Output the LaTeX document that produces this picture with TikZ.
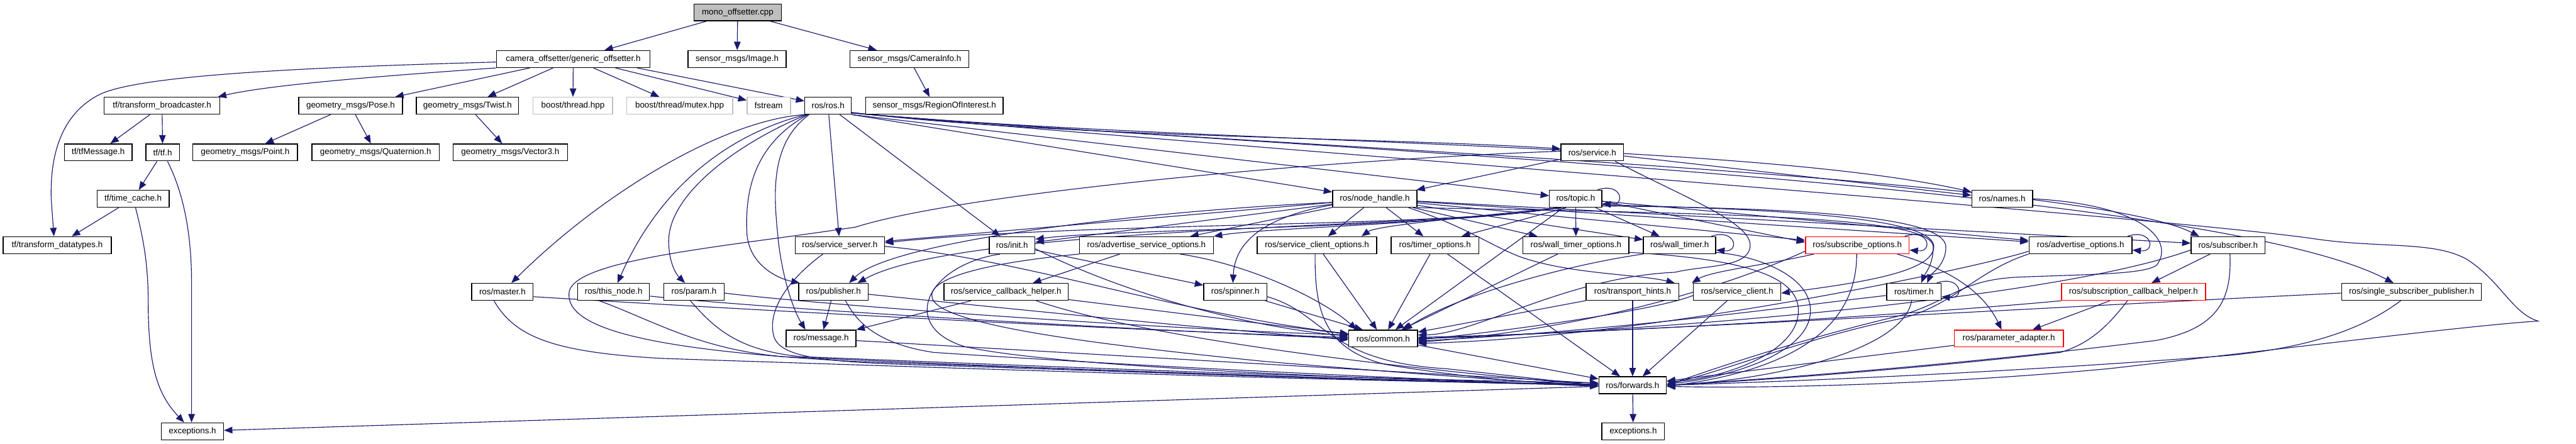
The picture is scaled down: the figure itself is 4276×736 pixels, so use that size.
\documentclass[tikz,border=0pt]{standalone}
\usepackage{fontspec}
\setmainfont{Liberation Sans}
\usetikzlibrary{arrows.meta}
\pgfdeclarelayer{edges}
\pgfsetlayers{edges,main}
\definecolor{edgecol}{RGB}{25,25,112}
\definecolor{graycol}{RGB}{191,191,191}
\definecolor{redcol}{RGB}{255,0,0}
\begin{document}
\begin{tikzpicture}[x=0.5pt,y=-0.5pt,
  box/.style={draw=black, line width=0.75pt, fill=white, minimum height=14pt, inner sep=0pt, font=\fontsize{7pt}{8pt}\selectfont, text=black},
  gbox/.style={box, draw=graycol},
  rbox/.style={box, draw=redcol},
  conn/.style={draw=edgecol, line width=0.6pt, -{Triangle[length=7pt,width=5.5pt]}}]
\path[use as bounding box] (0,0) rectangle (4276,736);
% ---------------- nodes ----------------
\node[box, minimum width=72.5pt, fill=graycol] (mono) at (1224.5,20.5) {mono\_offsetter.cpp};
\node[box, minimum width=127.5pt] (gen) at (951.5,98) {camera\_offsetter/generic\_offsetter.h};
\node[box, minimum width=81.5pt] (img) at (1223.5,98) {sensor\_msgs/Image.h};
\node[box, minimum width=98.5pt] (caminfo) at (1509.5,98) {sensor\_msgs/CameraInfo.h};
\node[box, minimum width=96pt] (tfb) at (269,175.5) {tf/transform\_broadcaster.h};
\node[box, minimum width=86pt] (pose) at (582,175.5) {geometry\_msgs/Pose.h};
\node[box, minimum width=85pt] (twist) at (776,175.5) {geometry\_msgs/Twist.h};
\node[gbox, minimum width=66pt] (bth) at (951,175.5) {boost/thread.hpp};
\node[gbox, minimum width=88pt] (bmutex) at (1128,175.5) {boost/thread/mutex.hpp};
\node[gbox, minimum width=36pt] (fstream) at (1276,175.5) {fstream};
\node[box, minimum width=38.5pt] (ros) at (1374.5,175.5) {ros/ros.h};
\node[box, minimum width=114pt] (roi) at (1551,175.5) {sensor\_msgs/RegionOfInterest.h};
\node[box, minimum width=56pt] (tfmsg) at (163,253) {tf/tfMessage.h};
\node[box, minimum width=28pt] (tftf) at (270,253) {tf/tf.h};
\node[box, minimum width=87pt] (point) at (407,253) {geometry\_msgs/Point.h};
\node[box, minimum width=105.5pt] (quat) at (623.5,253) {geometry\_msgs/Quaternion.h};
\node[box, minimum width=95pt] (vec3) at (847,253) {geometry\_msgs/Vector3.h};
\node[box, minimum width=52pt] (service) at (2643,253) {ros/service.h};
\node[box, minimum width=60pt] (timecache) at (221,330) {tf/time\_cache.h};
\node[box, minimum width=70pt] (nh) at (2282,330) {ros/node\_handle.h};
\node[box, minimum width=43.5pt] (topic) at (2615.5,330) {ros/topic.h};
\node[box, minimum width=50.5pt] (names) at (3323.5,330) {ros/names.h};
\node[box, minimum width=90pt] (tfdt) at (95,407) {tf/transform\_datatypes.h};
\node[box, minimum width=74pt] (srvserver) at (1394,407) {ros/service\_server.h};
\node[box, minimum width=38pt] (init) at (1680,407) {ros/init.h};
\node[box, minimum width=111pt] (aso) at (1903,407) {ros/advertise\_service\_options.h};
\node[box, minimum width=99pt] (sco) at (2186,407) {ros/service\_client\_options.h};
\node[box, minimum width=73pt] (timeropt) at (2382,407) {ros/timer\_options.h};
\node[box, minimum width=88pt] (wto) at (2616,407) {ros/wall\_timer\_options.h};
\node[box, minimum width=60pt] (walltimer) at (2788,407) {ros/wall\_timer.h};
\node[rbox, minimum width=86pt] (subopt) at (3083,407) {ros/subscribe\_options.h};
\node[box, minimum width=85.5pt] (advopt) at (3453.5,407) {ros/advertise\_options.h};
\node[box, minimum width=61.5pt] (subscriber) at (3698.5,407) {ros/subscriber.h};
\node[box, minimum width=51pt] (master) at (834,484.5) {ros/master.h};
\node[box, minimum width=59.5pt] (thisnode) at (1018.5,484.5) {ros/this\_node.h};
\node[box, minimum width=50pt] (param) at (1152,484.5) {ros/param.h};
\node[box, minimum width=57.5pt] (publisher) at (1383.5,484.5) {ros/publisher.h};
\node[box, minimum width=103pt] (sch) at (1670,484.5) {ros/service\_callback\_helper.h};
\node[box, minimum width=52.5pt] (spinner) at (2050.5,484.5) {ros/spinner.h};
\node[box, minimum width=77pt] (th) at (2710,484.5) {ros/transport\_hints.h};
\node[box, minimum width=72.5pt] (sclient) at (2883.5,484.5) {ros/service\_client.h};
\node[box, minimum width=45pt] (timer) at (3177,484.5) {ros/timer.h};
\node[rbox, minimum width=119.5pt] (subcbh) at (3541.5,484.5) {ros/subscription\_callback\_helper.h};
\node[box, minimum width=116pt] (ssp) at (4003,484.5) {ros/single\_subscriber\_publisher.h};
\node[box, minimum width=58pt] (message) at (1363,562) {ros/message.h};
\node[box, minimum width=57pt] (common) at (2296,562) {ros/common.h};
\node[rbox, minimum width=90.5pt] (padapter) at (3334.5,562) {ros/parameter\_adapter.h};
\node[box, minimum width=56pt] (forwards) at (2710,639.5) {ros/forwards.h};
\node[box, minimum width=51.5pt] (exc1) at (319.5,716) {exceptions.h};
\node[box, minimum width=52pt] (exc2) at (2711,716) {exceptions.h};
% ---------------- edges ----------------
\begin{pgfonlayer}{edges}
\fill[white] (0,0) rectangle (4276,736);
% top part
\draw[conn] (mono) -- (gen);
\draw[conn] (mono) -- (img);
\draw[conn] (mono) -- (caminfo);
\draw[conn] (caminfo) -- (roi);
\draw[conn] ([yshift=-2.5pt]gen.west) .. controls (500,112) and (230,125) .. (165,157) .. controls (100,190) and (83,260) .. (85,330) -- ([xshift=-2.75pt]tfdt.north);
\draw[conn] (gen.south west) .. controls (650,125) and (450,140) .. ([xshift=-2pt]tfb.north east);
\draw[conn] ([xshift=-36pt]gen.south) -- ([xshift=37pt]pose.north);
\draw[conn] (gen) -- (twist);
\draw[conn] (gen) -- (bth);
\draw[conn] (gen) -- (bmutex);
\draw[conn] ([xshift=35pt]gen.south) -- (fstream);
\draw[conn] ([xshift=53pt]gen.south) -- (ros);
\draw[conn] (tfb) -- (tfmsg);
\draw[conn] (tfb) -- (tftf);
\draw[conn] (pose) -- (point);
\draw[conn] (pose) -- (quat);
\draw[conn] (twist) -- (vec3);
\draw[conn] (tftf) -- (timecache);
\draw[conn] ([xshift=4pt]tftf.south) .. controls (302,315) and (318,380) .. (318,470) -- ([xshift=-0.75pt]exc1.north);
\draw[conn] (timecache) -- (tfdt);
\draw[conn] ([xshift=2pt]timecache.south) .. controls (235,385) and (246,430) .. (246,500) .. controls (246,610) and (262,655) .. (exc1);
\draw[conn] (forwards) -- (exc1);
\draw[conn] (forwards) -- (exc2);
\draw[conn] (common) -- (forwards);
% ros/ros.h
\draw[conn] (ros.south west) .. controls (1200,200) and (1000,320) .. (master);
\draw[conn] ([xshift=1pt]ros.south west) .. controls (1220,220) and (1100,300) .. (thisnode);
\draw[conn] ([xshift=2pt]ros.south west) .. controls (1230,235) and (1110,320) .. (1110,400) .. controls (1110,435) and (1122,455) .. (param);
\draw[conn] ([xshift=3pt]ros.south west) .. controls (1250,240) and (1236,320) .. (1240,390) .. controls (1245,440) and (1290,462) .. ([xshift=-28pt]publisher.north);
\draw[conn] ([xshift=4pt]ros.south west) .. controls (1275,240) and (1285,330) .. (1292,400) .. controls (1300,470) and (1320,520) .. ([xshift=-13pt]message.north);
\draw[conn] (ros) -- (srvserver);
\draw[conn] (ros) -- (init);
\draw[conn] ([yshift=-5.5pt]ros.east) .. controls (1750,228) and (2300,228) .. ([yshift=3pt]service.west);
\draw[conn] (ros.south east) -- (nh);
\draw[conn] (ros.south east) -- (topic);
\draw[conn] ([yshift=-6pt]ros.east) .. controls (2000,240) and (2900,235) .. (names);
\draw[conn] ([yshift=-6pt]ros.east) .. controls (2000,240) and (3450,290) .. ([xshift=-24pt]subscriber.north);
\draw[conn] ([yshift=-6pt]ros.east) .. controls (2000,240) and (3650,300) .. ([xshift=-15pt]ssp.north);
\draw[conn] ([yshift=-6pt]ros.east) .. controls (2000,240) and (3600,360) .. (3846,397) .. controls (3950,412) and (4040,400) .. (4094,430) .. controls (4150,465) and (4170,520) .. (4213,533) .. controls (4100,540) and (3800,578) .. (3500,612) .. controls (3200,640) and (2900,645) .. (forwards);
% ros/node_handle.h
\draw[conn] (nh) -- (srvserver);
\draw[conn] ([yshift=-3pt]nh.west) .. controls (1900,350) and (1480,400) .. ([xshift=13pt]publisher.north);
\draw[conn] (nh) -- (init);
\draw[conn] (nh) -- (aso);
\draw[conn] (nh) -- (sco);
\draw[conn] (nh) -- (timeropt);
\draw[conn] (nh) -- (wto);
\draw[conn] (nh) -- (walltimer);
\draw[conn] ([xshift=28pt]nh.south) .. controls (2430,375) and (2470,405) .. (2520,425) .. controls (2600,455) and (2720,455) .. ([xshift=35pt]th.north);
\draw[conn] (nh) -- (subopt);
\draw[conn] (nh) -- (advopt);
\draw[conn] (nh) -- (subscriber);
\draw[conn] (nh.south east) .. controls (2900,355) and (3209,360) .. (3209,410) .. controls (3209,440) and (3195,455) .. ([xshift=6pt]timer.north);
\draw[conn] ([yshift=-5pt]nh.west) .. controls (2100,360) and (2050,400) .. ([xshift=-2pt]spinner.north);
% ros/topic.h
\draw[conn] ([xshift=-15pt]topic.south) .. controls (2400,378) and (1800,368) .. ([yshift=2pt]srvserver.east);
\draw[conn] ([xshift=-15pt]topic.south) .. controls (2400,380) and (1600,372) .. ([xshift=20pt]publisher.north);
\draw[conn] ([xshift=-15pt]topic.south) .. controls (2400,378) and (1850,380) .. ([yshift=5pt]init.east);
\draw[conn] ([xshift=-12pt]topic.south) .. controls (2400,372) and (2100,378) .. (aso.north east);
\draw[conn] ([xshift=-12pt]topic.south) .. controls (2350,368) and (2280,378) .. ([xshift=37pt]sco.north);
\draw[conn] ([xshift=-8pt]topic.south) -- ([xshift=22pt]timeropt.north);
\draw[conn] (topic) -- (wto);
\draw[conn] (topic) -- (walltimer);
\draw[conn] ([yshift=-2pt]topic.east) -- ([yshift=2.5pt]subopt.west);
\draw[conn] (topic) -- (advopt);
\draw[conn] ([yshift=-6pt]topic.east) .. controls (3000,345) and (3230,360) .. (3230,410) .. controls (3230,440) and (3205,455) .. ([xshift=11pt]timer.north);
\draw[conn] ([yshift=-5pt]topic.east) .. controls (3000,348) and (3212,365) .. (3210,410) .. controls (3208,450) and (3100,468) .. ([yshift=-1pt]sclient.east);
\draw[conn] (topic) -- (common);
\draw[conn] ([xshift=-4pt]topic.north east) .. controls +(40,-14) and +(40,4) .. ([yshift=-4pt]topic.east);
% ros/service.h
\draw[conn] (service) -- (nh);
\draw[conn] (service) -- (names);
\draw[conn] ([yshift=1pt]service.west) .. controls (2200,265) and (1600,320) .. (1420,377) .. controls (1200,410) and (960,430) .. (945,483) .. controls (935,540) and (1050,580) .. (1420,600) .. controls (2000,620) and (2400,635) .. (forwards);
\draw[conn] ([xshift=19pt]service.south) .. controls (2800,330) and (2910,370) .. (2905,410) .. controls (2900,445) and (2830,440) .. (2780,452) .. controls (2600,460) and (2450,555) .. ([yshift=3pt]common.east);
% left group
\draw[conn] ([xshift=-7pt]master.south) .. controls (855,560) and (920,585) .. (1100,595) .. controls (1700,615) and (2300,635) .. ([yshift=1pt]forwards.west);
\draw[conn] ([yshift=-4pt]master.east) .. controls (1200,512) and (1900,550) .. ([yshift=1pt]common.west);
\draw[conn] ([yshift=-3.5pt]thisnode.east) .. controls (1300,515) and (1900,548) .. (common.west);
\draw[conn] ([xshift=-12pt]thisnode.south) .. controls (1080,530) and (1160,580) .. (1300,592) .. controls (1800,615) and (2300,632) .. (forwards.west);
\draw[conn] ([yshift=-1pt]param.east) .. controls (1350,505) and (1900,545) .. ([yshift=3pt]common.west);
\draw[conn] ([xshift=-3pt]param.south) .. controls (1190,550) and (1230,582) .. (1330,592) .. controls (1900,615) and (2300,630) .. ([yshift=2pt]forwards.west);
\draw[conn] (publisher) -- (message);
\draw[conn] ([yshift=-2pt]publisher.east) .. controls (1700,515) and (2000,545) .. ([yshift=-1pt]common.west);
\draw[conn] ([xshift=10pt]publisher.south) .. controls (1420,530) and (1450,570) .. (1550,585) .. controls (2000,615) and (2400,630) .. ([yshift=-1pt]forwards.west);
\draw[conn] ([yshift=-1pt]srvserver.east) .. controls (1700,430) and (1950,520) .. ([yshift=4pt]common.west);
\draw[conn] ([xshift=-14pt]srvserver.south) .. controls (1320,455) and (1270,510) .. (1285,560) .. controls (1300,600) and (1400,602) .. (1600,608) .. controls (2100,625) and (2400,635) .. (forwards.west);
\draw[conn] (message) -- (forwards);
\draw[conn] (sch) -- (message);
\draw[conn] (sch) -- (common);
\draw[conn] ([xshift=25pt]sch.south) .. controls (1900,560) and (2300,610) .. (forwards.west);
\draw[conn] (init) -- (spinner);
\draw[conn] ([yshift=-3pt]init.east) .. controls (1850,480) and (2050,540) .. ([yshift=2pt]common.west);
\draw[conn] ([xshift=-10pt]init.south) .. controls (1540,440) and (1490,540) .. (1600,575) .. controls (1750,610) and (2300,630) .. (forwards.west);
\draw[conn] (aso) -- (sch);
\draw[conn] ([xshift=28pt]aso.south) .. controls (2080,440) and (2200,500) .. ([xshift=-22pt]common.north);
\draw[conn] (aso.south west) .. controls (1600,440) and (1530,470) .. (1550,500) .. controls (1580,540) and (1800,570) .. (2100,600) .. controls (2400,625) and (2550,635) .. (forwards.west);
\draw[conn] (sco) -- (common);
\draw[conn] ([xshift=-1.5pt]sco.south) .. controls (2182,520) and (2200,580) .. (2300,605) .. controls (2450,630) and (2580,638) .. (forwards.west);
\draw[conn] (timeropt) -- (common);
\draw[conn] (timeropt) -- (forwards);
\draw[conn] (spinner) -- ([xshift=-17pt]common.north);
\draw[conn] ([yshift=-4pt]spinner.east) .. controls (2200,520) and (2200,600) .. (2400,612) .. controls (2550,628) and (2600,635) .. (forwards.west);
% right group
\draw[conn] (wto) -- (common);
\draw[conn] ([yshift=-6pt]wto.east) .. controls (2900,430) and (2990,460) .. (2985,520) .. controls (2980,590) and (2850,630) .. ([yshift=3pt]forwards.east);
\draw[conn] (walltimer.south west) .. controls (2600,440) and (2420,490) .. ([xshift=17pt]common.north);
\draw[conn] ([yshift=-6pt]walltimer.east) .. controls (2920,425) and (3010,460) .. (3005,520) .. controls (3000,590) and (2860,628) .. ([yshift=1pt]forwards.east);
\draw[conn] ([xshift=-4pt]walltimer.north east) .. controls +(40,-14) and +(40,4) .. ([yshift=-4pt]walltimer.east);
\draw[conn] (th) -- (forwards);
\draw[conn] (th) -- (common);
\draw[conn] (sclient) -- (forwards);
\draw[conn] ([yshift=-3pt]sclient.west) .. controls (2750,515) and (2500,550) .. ([yshift=-1pt]common.east);
\draw[conn] ([xshift=-36pt]subopt.south) .. controls (2930,440) and (2840,450) .. ([xshift=-1pt]sclient.north west);
\draw[conn] ([yshift=-5pt]subopt.west) .. controls (2880,470) and (2650,545) .. ([yshift=-3pt]common.east);
\draw[conn] ([xshift=-0.5pt]subopt.south) .. controls (3082,530) and (3000,610) .. ([yshift=-1pt]forwards.east);
\draw[conn] ([xshift=33pt]subopt.south) .. controls (3230,445) and (3290,480) .. ([xshift=-6pt]padapter.north);
\draw[conn] ([xshift=-4pt]subopt.north east) .. controls +(40,-14) and +(40,4) .. ([yshift=-4pt]subopt.east);
\draw[conn] ([yshift=-5pt]advopt.west) .. controls (3300,440) and (2750,560) .. ([yshift=-4pt]common.east);
\draw[conn] (advopt.south west) .. controls (3280,450) and (3240,510) .. (3150,530) .. controls (3000,560) and (2850,620) .. ([yshift=1pt]forwards.east);
\draw[conn] ([xshift=-4pt]advopt.north east) .. controls +(40,-14) and +(40,4) .. ([yshift=-4pt]advopt.east);
\draw[conn] (subscriber) -- (subcbh);
\draw[conn] ([yshift=-4pt]subscriber.west) .. controls (3400,500) and (2700,552) .. (common.east);
\draw[conn] ([xshift=1.5pt]subscriber.south) .. controls (3705,500) and (3680,545) .. (3580,565) .. controls (3300,600) and (3000,625) .. (forwards.east);
\draw[conn] ([yshift=-3pt]timer.west) .. controls (3000,505) and (2700,548) .. ([yshift=-2pt]common.east);
\draw[conn] ([xshift=-2pt]timer.south) .. controls (3160,580) and (2950,630) .. (forwards.east);
\draw[conn] ([xshift=-4pt]timer.north east) .. controls +(40,-14) and +(40,4) .. ([yshift=-4pt]timer.east);
\draw[conn] (subcbh) -- (padapter);
\draw[conn] (subcbh.south west) .. controls (3200,520) and (2700,552) .. ([yshift=1pt]common.east);
\draw[conn] ([xshift=-5pt]subcbh.south) .. controls (3500,540) and (3470,570) .. (3420,585) .. controls (3200,610) and (2950,630) .. (forwards.east);
\draw[conn] (padapter) -- (forwards);
\draw[conn] ([yshift=-1pt]ssp.west) .. controls (3500,505) and (2800,545) .. (common.east);
\draw[conn] ([xshift=-9pt]ssp.south) .. controls (3930,540) and (3850,575) .. (3700,590) .. controls (3300,620) and (3000,632) .. (forwards.east);
\draw[conn] (names.east) .. controls (3560,340) and (3610,400) .. (3580,440) .. controls (3560,455) and (3480,455) .. (3350,460) .. controls (3250,465) and (3240,500) .. (3150,525) .. controls (3000,560) and (2850,610) .. (forwards.east);
\end{pgfonlayer}
\end{tikzpicture}
\end{document}
